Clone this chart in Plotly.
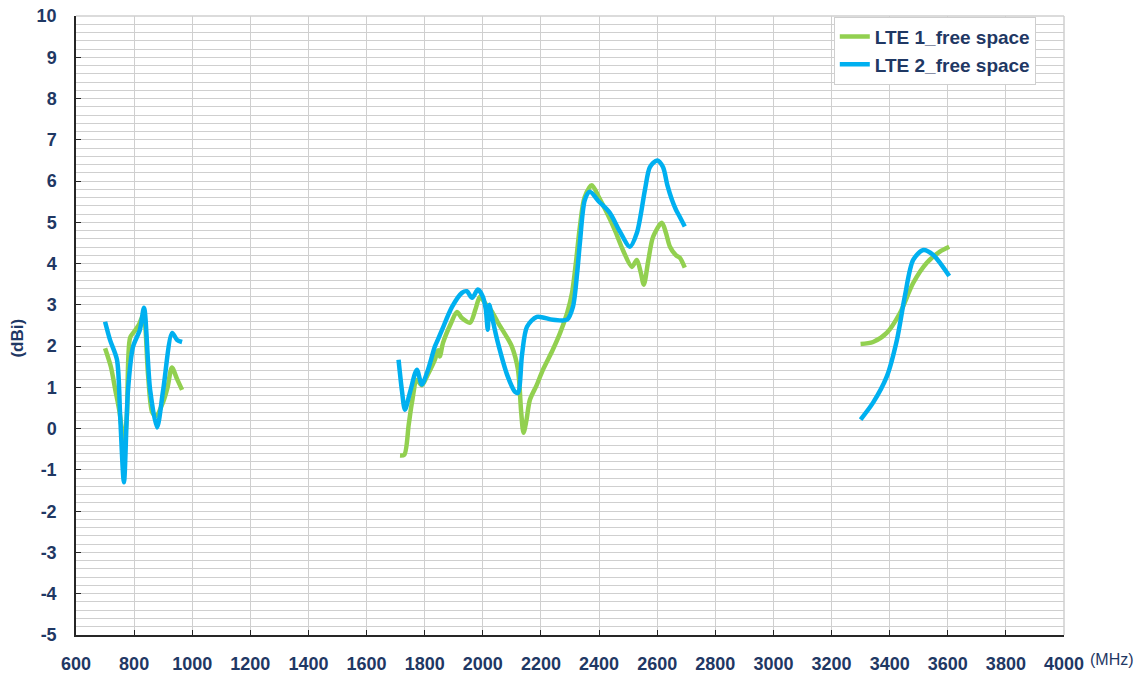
import plotly.graph_objects as go

# ---- data (MHz, dBi); None separates bands ----
lte1_freq = [700, 720, 735, 750, 765, 775, 786, 800, 815, 832, 848, 862, 875, 900, 915, 930, 948, 965,
             None,
             1715, 1730, 1745, 1756, 1773, 1790, 1810, 1835, 1846, 1852, 1863, 1890, 1911, 1928, 1956,
             1975, 1990, 2007, 2030, 2052, 2080, 2100, 2121, 2132, 2140, 2150, 2162, 2185, 2207, 2240,
             2266, 2290, 2307, 2320, 2334, 2350, 2375, 2400, 2427, 2455, 2482, 2513, 2530, 2543, 2554,
             2570, 2586, 2616, 2630, 2644, 2665, 2678, 2695,
             None,
             3300, 3343, 3390, 3436, 3481, 3528, 3573, 3605]
lte1_gain = [1.95, 1.5, 0.95, 0.4, -0.35, 0.3, 2.2, 2.35, 2.5, 2.75, 1.3, 0.4, 0.3, 0.65, 1.0, 1.48, 1.2, 0.94,
             None,
             -0.65, -0.63, 0.1, 0.63, 1.18, 1.05, 1.3, 1.67, 1.9, 1.75, 2.08, 2.55, 2.83, 2.68, 2.57,
             2.9, 3.2, 3.05, 2.85, 2.57, 2.25, 1.99, 1.43, 0.4, -0.1, 0.2, 0.7, 1.05, 1.43, 1.9,
             2.32, 2.8, 3.29, 4.0, 4.89, 5.6, 5.9, 5.6, 5.23, 4.8, 4.33, 3.92, 4.09, 3.8, 3.49,
             4.1, 4.65, 4.99, 4.75, 4.41, 4.2, 4.14, 3.9,
             None,
             2.05, 2.1, 2.32, 2.81, 3.53, 4.02, 4.29, 4.41]

lte2_freq = [700, 717, 741, 752, 765, 779, 796, 820, 834, 855, 879, 900, 931, 948, 965,
             None,
             1710, 1722, 1732, 1750, 1773, 1790, 1810, 1835, 1845, 1860, 1894, 1928, 1945, 1963,
             1983, 2000, 2010, 2017, 2022, 2035, 2052, 2086, 2110, 2121, 2135, 2152, 2186, 2241,
             2290, 2310, 2325, 2334, 2351, 2368, 2400, 2437, 2470, 2506, 2530, 2558, 2575, 2600,
             2620, 2635, 2651, 2665, 2678, 2695,
             None,
             3300, 3343, 3390, 3425, 3452, 3481, 3516, 3550, 3605]
lte2_gain = [2.59, 2.15, 1.67, 0.3, -1.3, 0.94, 1.98, 2.4, 2.93, 0.94, 0.03, 0.94, 2.32, 2.15, 2.1,
             None,
             1.67, 0.9, 0.46, 0.9, 1.43, 1.07, 1.4, 1.99, 2.15, 2.4, 2.95, 3.29, 3.33, 3.17,
             3.37, 3.2, 2.9, 2.4, 3.0, 2.6, 2.08, 1.26, 0.9, 0.87, 1.8, 2.47, 2.71, 2.64,
             2.64, 2.95, 3.8, 4.5, 5.54, 5.74, 5.5, 5.23, 4.8, 4.41, 4.74, 5.79, 6.34, 6.5,
             6.34, 5.9, 5.54, 5.3, 5.13, 4.9,
             None,
             0.22, 0.63, 1.26, 2.15, 3.2, 4.09, 4.33, 4.21, 3.7]

x_ticks = [600, 800, 1000, 1200, 1400, 1600, 1800, 2000, 2200, 2400, 2600, 2800,
           3000, 3200, 3400, 3600, 3800, 4000]
y_ticks = [-5, -4, -3, -2, -1, 0, 1, 2, 3, 4, 5, 6, 7, 8, 9, 10]

label_color = "#1F3864"
grid_color = "#CFCFCF"
font_family = "Liberation Sans, Arial, sans-serif"

fig = go.Figure()
fig.add_trace(go.Scatter(x=lte1_freq, y=lte1_gain, mode="lines", name="LTE 1_free space",
                         line=dict(color="#92D050", width=4.5, shape="spline", smoothing=0.8),
                         connectgaps=False))
fig.add_trace(go.Scatter(x=lte2_freq, y=lte2_gain, mode="lines", name="LTE 2_free space",
                         line=dict(color="#00B0F0", width=4.5, shape="spline", smoothing=0.8),
                         connectgaps=False))

fig.update_layout(
    width=1144, height=679,
    margin=dict(l=76, r=80, t=16, b=44, autoexpand=False),
    paper_bgcolor="white", plot_bgcolor="white",
    font=dict(family=font_family, color=label_color),
    showlegend=True,
    legend=dict(x=0.767, y=0.999, xanchor="left", yanchor="top",
                bgcolor="white", bordercolor=grid_color, borderwidth=1,
                font=dict(size=19, color=label_color, family=font_family, weight="bold"),
                itemwidth=30, tracegroupgap=0, entrywidth=226, entrywidthmode="pixels"),
    xaxis=dict(range=[600, 4000], tickvals=x_ticks, ticktext=[str(v) for v in x_ticks],
               showgrid=True, gridcolor=grid_color, gridwidth=1,
               showline=True, linecolor="#262626", linewidth=1.5,
               ticks="inside", ticklen=5, tickcolor="#262626", tickwidth=1,
               tickfont=dict(size=18, color=label_color, family=font_family, weight="bold"),
               ticklabelstandoff=12, ticklabeloverflow="allow", zeroline=False),
    yaxis=dict(range=[-5, 10], tickvals=y_ticks, ticktext=[str(v) for v in y_ticks],
               showgrid=True, gridcolor=grid_color, gridwidth=1,
               minor=dict(dtick=0.2, showgrid=True, gridcolor=grid_color, gridwidth=1),
               showline=True, linecolor="#262626", linewidth=1.5,
               ticks="inside", ticklen=5, tickcolor="#262626", tickwidth=1,
               tickfont=dict(size=18, color=label_color, family=font_family, weight="bold"),
               ticklabelstandoff=14, ticklabeloverflow="allow", zeroline=False),
)

# top and right border in grid colour
fig.add_shape(type="line", xref="paper", yref="paper", x0=0, x1=1, y0=1, y1=1,
              line=dict(color=grid_color, width=1.5), layer="below")
fig.add_shape(type="line", xref="paper", yref="paper", x0=1, x1=1, y0=0, y1=1,
              line=dict(color=grid_color, width=1.5), layer="below")

fig.add_annotation(text="(dBi)", xref="paper", yref="paper", x=-0.059, y=0.48,
                   xanchor="center", yanchor="middle", textangle=-90, showarrow=False,
                   font=dict(size=17, color=label_color, family=font_family, weight="bold"))
fig.add_annotation(text="(MHz)", xref="paper", yref="paper", x=1.049, y=-0.04,
                   xanchor="center", yanchor="middle", showarrow=False,
                   font=dict(size=16, color=label_color, family=font_family))

# remove the browser's default page margin so the figure fills the window exactly
fig.write_html("out.html", config={"displayModeBar": False},
               post_script="document.body.style.margin='0';")
